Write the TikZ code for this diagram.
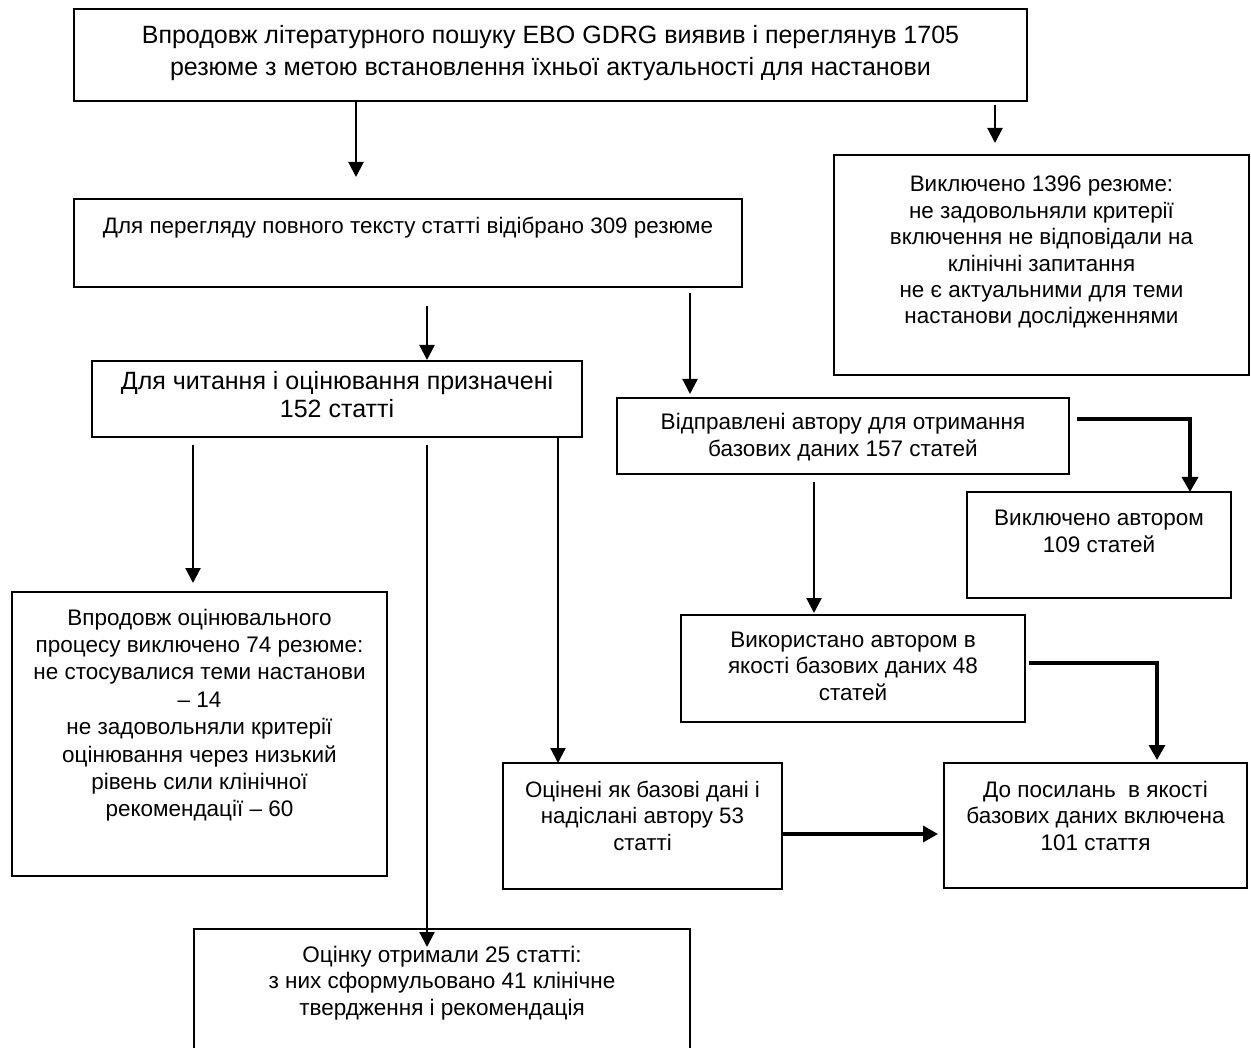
\documentclass[tikz,border=0pt]{standalone}
\usepackage{fontspec}
\setmainfont{Liberation Sans}
\usetikzlibrary{arrows.meta,calc}
\tikzset{
  box/.style={draw=black, line width=1.3pt, inner sep=0pt, outer sep=0pt, rectangle},
  arr/.style={draw=black, line width=2.2pt, -{Triangle[width=15pt,length=15pt]}},
  thickarr/.style={draw=black, line width=3.4pt, -{Triangle[width=16pt,length=15pt]}},
}
% name, x1, y1, x2, y2, first-baseline offset, baselineskip, font size, text
\newcommand\mybox[9]{%
  \node[box, anchor=north west] (#1) at (#2,#3)
  {\parbox[c][\dimexpr#5pt-#3pt\relax][t]{\dimexpr#4pt-#2pt\relax}{\centering
   \fontsize{#8}{#7}\selectfont\vspace*{\dimexpr#6pt-0.7\baselineskip\relax}\strut #9\par}};}
\begin{document}
\begin{tikzpicture}[x=1pt,y=-1pt]
\useasboundingbox (0,0) rectangle (1251,1048);
\clip (0,0) rectangle (1251,1048);
\fill[white] (0,0) rectangle (1251,1048);

\mybox{top}{74}{9}{1027}{101}{35}{32}{25}{Впродовж літературного пошуку EBO GDRG виявив і переглянув 1705\\резюме з метою встановлення їхньої актуальності для настанови}
\mybox{b2}{74}{199}{742}{287}{35}{27}{22.4}{Для перегляду повного тексту статті відібрано 309 резюме}
\mybox{b3}{834}{155}{1249}{375}{37}{26.4}{22.4}{Виключено 1396 резюме:\\не задовольняли критерії\\включення не відповідали на\\клінічні запитання\\не є актуальними для теми\\настанови дослідженнями}
\mybox{b4}{92}{361}{582}{437}{29}{28}{25}{Для читання і оцінювання призначені\\152 статті}
\mybox{b5}{617}{398}{1069}{474}{32}{27}{22.5}{Відправлені автору для отримання\\базових даних 157 статей}
\mybox{b6}{967}{492}{1231}{598}{33}{27}{22.5}{Виключено автором\\109 статей}
\mybox{b7}{12}{592}{387}{876}{33}{27.4}{22.5}{Впродовж оцінювального\\процесу виключено 74 резюме:\\не стосувалися теми настанови\\– 14\\не задовольняли критерії\\оцінювання через низький\\рівень сили клінічної\\рекомендації – 60}
\mybox{b8}{681}{615}{1025}{722}{32}{26.5}{22.5}{Використано автором в\\якості базових даних 48\\статей}
\mybox{b9}{503}{763}{782}{889}{34}{26.5}{22.3}{Оцінені як базові дані і\\надіслані автору 53\\статті}
\mybox{b10}{944}{763}{1247}{888}{34}{26.5}{22.5}{До посилань\ \ в якості\\базових даних включена\\101 стаття}
\mybox{b11}{194}{929}{690}{1060}{33}{26.5}{22.5}{Оцінку отримали 25 статті:\\з них сформульовано 41 клінічне\\твердження і рекомендація}

% positions of connectors
\coordinate (xa) at (356,0);
\coordinate (xb) at (995,0);
\coordinate (xc) at (427,0);
\coordinate (xd) at (690,0);
\coordinate (xe) at (193,0);
\coordinate (xf) at (558,0);
\coordinate (xg) at (814,0);
\coordinate (ya) at (0,419);
\coordinate (yb) at (0,663);
\coordinate (yc) at (0,834);
\coordinate (ka) at (1190,419);
\coordinate (kb) at (1157,663);

\draw[arr, shorten >=22pt] (top.south -| xa) -- (b2.north -| xa);
\draw[arr, shorten <=4pt, shorten >=12pt] (top.south -| xb) -- (b3.north -| xb);
\draw[arr, shorten <=19pt, shorten >=1pt] (b2.south -| xc) -- (b4.north -| xc);
\draw[arr, shorten <=6pt, shorten >=4pt] (b2.south -| xd) -- (b5.north -| xd);
\draw[arr, shorten <=8pt, shorten >=9pt] (b4.south -| xe) -- (b7.north -| xe);
\draw[arr, shorten <=8pt, shorten >=-18pt] (b4.south -| xc) -- (b11.north -| xc);
\draw[arr, shorten <=1pt] (b4.south -| xf) -- (b9.north -| xf);
\draw[arr, shorten <=8pt, shorten >=2pt] (b5.south -| xg) -- (b8.north -| xg);
\draw[thickarr, shorten <=8pt] (b5.east |- ya) -- (ka) -- (b6.north -| ka);
\draw[thickarr, shorten <=4pt, shorten >=3pt] (b8.east |- yb) -- (kb) -- (b10.north -| kb);
\draw[thickarr, shorten <=1pt, shorten >=6pt] (b9.east |- yc) -- (b10.west |- yc);
\end{tikzpicture}
\end{document}
